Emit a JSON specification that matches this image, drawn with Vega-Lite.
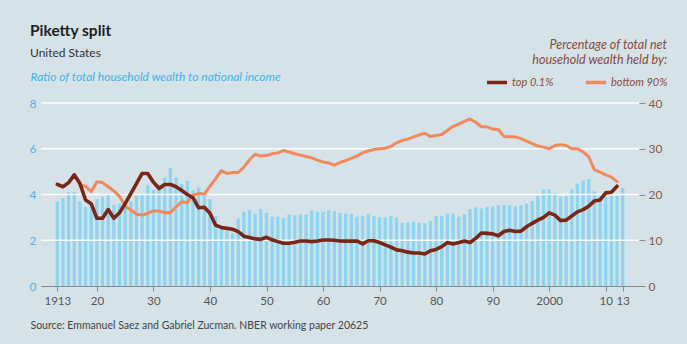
{
  "$schema": "https://vega.github.io/schema/vega-lite/v6.json",
  "width": 598,
  "height": 183,
  "autosize": "none",
  "padding": {"left": 41, "top": 103, "right": 48, "bottom": 58},
  "background": "#d5e2e8",
  "config": {"font": "Lato", "view": {"stroke": null}},
  "title": {
    "text": "Piketty split",
    "subtitle": "United States",
    "anchor": "start",
    "frame": "group",
    "dx": -11,
    "dy": 23.5,
    "fontSize": 15.5,
    "fontWeight": "bold",
    "color": "#1e1e1e",
    "subtitleFontSize": 12,
    "subtitleColor": "#333333",
    "subtitlePadding": 8,
    "offset": 4
  },
  "data": {
    "values": [
      {"year": 1913, "ratio": 3.7, "top": 22.2, "bottom": null},
      {"year": 1914, "ratio": 3.85, "top": 21.7, "bottom": null},
      {"year": 1915, "ratio": 4.1, "top": 22.6, "bottom": null},
      {"year": 1916, "ratio": 4.1, "top": 24.3, "bottom": null},
      {"year": 1917, "ratio": 3.7, "top": 22.4, "bottom": 22.0},
      {"year": 1918, "ratio": 3.45, "top": 18.8, "bottom": 21.8},
      {"year": 1919, "ratio": 3.6, "top": 18.0, "bottom": 20.6},
      {"year": 1920, "ratio": 3.8, "top": 14.8, "bottom": 22.8},
      {"year": 1921, "ratio": 3.9, "top": 14.8, "bottom": 22.6},
      {"year": 1922, "ratio": 4.0, "top": 16.7, "bottom": 21.7},
      {"year": 1923, "ratio": 3.55, "top": 14.8, "bottom": 20.8},
      {"year": 1924, "ratio": 3.6, "top": 16.0, "bottom": 19.6},
      {"year": 1925, "ratio": 3.7, "top": 18.0, "bottom": 17.5},
      {"year": 1926, "ratio": 3.7, "top": 20.2, "bottom": 16.6},
      {"year": 1927, "ratio": 3.95, "top": 22.4, "bottom": 15.7},
      {"year": 1928, "ratio": 4.0, "top": 24.6, "bottom": 15.5},
      {"year": 1929, "ratio": 4.4, "top": 24.6, "bottom": 15.9},
      {"year": 1930, "ratio": 4.2, "top": 22.7, "bottom": 16.4},
      {"year": 1931, "ratio": 4.45, "top": 21.3, "bottom": 16.4},
      {"year": 1932, "ratio": 4.75, "top": 22.2, "bottom": 16.0},
      {"year": 1933, "ratio": 5.15, "top": 22.2, "bottom": 16.0},
      {"year": 1934, "ratio": 4.75, "top": 21.7, "bottom": 17.3},
      {"year": 1935, "ratio": 4.45, "top": 20.9, "bottom": 18.4},
      {"year": 1936, "ratio": 4.6, "top": 20.0, "bottom": 18.2},
      {"year": 1937, "ratio": 4.2, "top": 19.3, "bottom": 19.9},
      {"year": 1938, "ratio": 4.3, "top": 17.1, "bottom": 20.2},
      {"year": 1939, "ratio": 3.95, "top": 17.2, "bottom": 20.1},
      {"year": 1940, "ratio": 3.8, "top": 15.9, "bottom": 21.8},
      {"year": 1941, "ratio": 3.05, "top": 13.3, "bottom": 23.4},
      {"year": 1942, "ratio": 2.65, "top": 12.8, "bottom": 25.2},
      {"year": 1943, "ratio": 2.4, "top": 12.6, "bottom": 24.6},
      {"year": 1944, "ratio": 2.3, "top": 12.4, "bottom": 24.8},
      {"year": 1945, "ratio": 2.95, "top": 11.9, "bottom": 24.8},
      {"year": 1946, "ratio": 3.25, "top": 10.9, "bottom": 26.0},
      {"year": 1947, "ratio": 3.32, "top": 10.6, "bottom": 27.6},
      {"year": 1948, "ratio": 3.17, "top": 10.3, "bottom": 28.8},
      {"year": 1949, "ratio": 3.36, "top": 10.2, "bottom": 28.4},
      {"year": 1950, "ratio": 3.2, "top": 10.65, "bottom": 28.5},
      {"year": 1951, "ratio": 3.03, "top": 10.1, "bottom": 28.9},
      {"year": 1952, "ratio": 3.03, "top": 9.7, "bottom": 29.1},
      {"year": 1953, "ratio": 2.96, "top": 9.35, "bottom": 29.6},
      {"year": 1954, "ratio": 3.14, "top": 9.35, "bottom": 29.3},
      {"year": 1955, "ratio": 3.1, "top": 9.57, "bottom": 28.9},
      {"year": 1956, "ratio": 3.13, "top": 9.85, "bottom": 28.6},
      {"year": 1957, "ratio": 3.13, "top": 9.85, "bottom": 28.3},
      {"year": 1958, "ratio": 3.29, "top": 9.7, "bottom": 28.0},
      {"year": 1959, "ratio": 3.24, "top": 9.85, "bottom": 27.5},
      {"year": 1960, "ratio": 3.24, "top": 10.07, "bottom": 27.1},
      {"year": 1961, "ratio": 3.3, "top": 10.07, "bottom": 26.9},
      {"year": 1962, "ratio": 3.27, "top": 10.0, "bottom": 26.4},
      {"year": 1963, "ratio": 3.2, "top": 9.85, "bottom": 27.0},
      {"year": 1964, "ratio": 3.17, "top": 9.8, "bottom": 27.4},
      {"year": 1965, "ratio": 3.15, "top": 9.8, "bottom": 27.9},
      {"year": 1966, "ratio": 3.03, "top": 9.85, "bottom": 28.4},
      {"year": 1967, "ratio": 3.06, "top": 9.2, "bottom": 29.1},
      {"year": 1968, "ratio": 3.15, "top": 9.9, "bottom": 29.5},
      {"year": 1969, "ratio": 3.06, "top": 9.9, "bottom": 29.85},
      {"year": 1970, "ratio": 3.0, "top": 9.5, "bottom": 30.0},
      {"year": 1971, "ratio": 3.0, "top": 9.0, "bottom": 30.1},
      {"year": 1972, "ratio": 3.06, "top": 8.5, "bottom": 30.5},
      {"year": 1973, "ratio": 3.0, "top": 7.9, "bottom": 31.3},
      {"year": 1974, "ratio": 2.77, "top": 7.7, "bottom": 31.8},
      {"year": 1975, "ratio": 2.77, "top": 7.4, "bottom": 32.1},
      {"year": 1976, "ratio": 2.81, "top": 7.2, "bottom": 32.6},
      {"year": 1977, "ratio": 2.77, "top": 7.2, "bottom": 33.0},
      {"year": 1978, "ratio": 2.74, "top": 7.0, "bottom": 33.4},
      {"year": 1979, "ratio": 2.85, "top": 7.7, "bottom": 32.7},
      {"year": 1980, "ratio": 3.06, "top": 8.0, "bottom": 32.9},
      {"year": 1981, "ratio": 3.06, "top": 8.6, "bottom": 33.1},
      {"year": 1982, "ratio": 3.17, "top": 9.5, "bottom": 34.0},
      {"year": 1983, "ratio": 3.17, "top": 9.2, "bottom": 34.9},
      {"year": 1984, "ratio": 3.03, "top": 9.5, "bottom": 35.4},
      {"year": 1985, "ratio": 3.14, "top": 9.85, "bottom": 36.0},
      {"year": 1986, "ratio": 3.36, "top": 9.5, "bottom": 36.5},
      {"year": 1987, "ratio": 3.43, "top": 10.4, "bottom": 35.8},
      {"year": 1988, "ratio": 3.39, "top": 11.6, "bottom": 34.8},
      {"year": 1989, "ratio": 3.46, "top": 11.5, "bottom": 34.8},
      {"year": 1990, "ratio": 3.48, "top": 11.4, "bottom": 34.3},
      {"year": 1991, "ratio": 3.53, "top": 11.0, "bottom": 34.2},
      {"year": 1992, "ratio": 3.53, "top": 11.9, "bottom": 32.7},
      {"year": 1993, "ratio": 3.53, "top": 12.2, "bottom": 32.6},
      {"year": 1994, "ratio": 3.5, "top": 11.9, "bottom": 32.6},
      {"year": 1995, "ratio": 3.53, "top": 12.0, "bottom": 32.2},
      {"year": 1996, "ratio": 3.6, "top": 12.95, "bottom": 31.65},
      {"year": 1997, "ratio": 3.72, "top": 13.7, "bottom": 31.1},
      {"year": 1998, "ratio": 3.93, "top": 14.4, "bottom": 30.6},
      {"year": 1999, "ratio": 4.22, "top": 15.0, "bottom": 30.35},
      {"year": 2000, "ratio": 4.22, "top": 16.0, "bottom": 30.0},
      {"year": 2001, "ratio": 4.07, "top": 15.5, "bottom": 30.7},
      {"year": 2002, "ratio": 3.9, "top": 14.3, "bottom": 30.9},
      {"year": 2003, "ratio": 3.93, "top": 14.4, "bottom": 30.7},
      {"year": 2004, "ratio": 4.22, "top": 15.3, "bottom": 30.0},
      {"year": 2005, "ratio": 4.48, "top": 16.2, "bottom": 30.0},
      {"year": 2006, "ratio": 4.62, "top": 16.7, "bottom": 29.3},
      {"year": 2007, "ratio": 4.67, "top": 17.45, "bottom": 28.2},
      {"year": 2008, "ratio": 4.14, "top": 18.6, "bottom": 25.4},
      {"year": 2009, "ratio": 3.93, "top": 18.8, "bottom": 24.9},
      {"year": 2010, "ratio": 3.9, "top": 20.35, "bottom": 24.3},
      {"year": 2011, "ratio": 3.93, "top": 20.5, "bottom": 23.8},
      {"year": 2012, "ratio": 3.93, "top": 21.8, "bottom": 22.8},
      {"year": 2013, "ratio": 4.29, "top": null, "bottom": null}
    ]
  },
  "encoding": {
    "x": {
      "field": "year",
      "type": "quantitative",
      "scale": {"domain": [1911, 2015], "nice": false, "zero": false},
      "axis": {
        "title": "Source: Emmanuel Saez and Gabriel Zucman. NBER working paper 20625",
        "titleX": -11,
        "titleY": 42,
        "titleAlign": "left",
        "titleAnchor": "start",
        "titleBaseline": "alphabetic",
        "titleFontSize": 10.5,
        "titleFontWeight": "normal",
        "titleColor": "#444444",
        "values": [1913, 1920, 1930, 1940, 1950, 1960, 1970, 1980, 1990, 2000, 2010, 2013],
        "format": "d",
        "labelExpr": "datum.value == 1913 || datum.value == 2000 ? datum.label : substring(datum.label, 2)",
        "labelOverlap": false,
        "labelFlush": false,
        "labelColor": "#555555",
        "labelFontSize": 11.5,
        "labelPadding": 4,
        "domainColor": "#8a8a8a",
        "domainWidth": 1,
        "tickColor": "#8a8a8a",
        "tickSize": 5,
        "grid": false
      }
    }
  },
  "layer": [
    {
      "layer": [
        {
          "mark": {"type": "bar", "color": "#8dd4ef", "size": 3.3},
          "encoding": {
            "y": {
              "field": "ratio",
              "type": "quantitative",
              "scale": {"domain": [0, 8], "nice": false},
              "axis": {
                "title": "Ratio of total household wealth to national income",
                "titleAngle": 0,
                "titleX": -11,
                "titleY": -23,
                "titleAlign": "left",
                "titleAnchor": "start",
                "titleBaseline": "alphabetic",
                "titleColor": "#3fb3e3",
                "titleFontStyle": "italic",
                "titleFontWeight": "normal",
                "titleFontSize": 12,
                "values": [0, 2, 4, 6, 8],
                "domain": false,
                "ticks": false,
                "grid": false,
                "labelColor": "#4fb6e0",
                "labelFontSize": 12,
                "labelPadding": 5
              }
            }
          }
        },
        {
          "data": {"values": [{"g": 2}, {"g": 4}, {"g": 6}, {"g": 8}]},
          "mark": {"type": "rule", "color": "#ffffff", "strokeWidth": 1.6, "opacity": 0.9},
          "encoding": {
            "x": {"value": 0},
            "x2": {"value": 598},
            "y": {"field": "g", "type": "quantitative"}
          }
        }
      ]
    },
    {
      "layer": [
        {
          "mark": {"type": "line", "strokeWidth": 3, "strokeJoin": "round", "strokeCap": "round"},
          "encoding": {
            "y": {
              "field": "bottom",
              "type": "quantitative",
              "scale": {"domain": [0, 40], "nice": false},
              "axis": {
                "orient": "right",
                "title": null,
                "values": [0, 10, 20, 30, 40],
                "domain": false,
                "grid": false,
                "ticks": true,
                "tickColor": "#8a8a8a",
                "tickSize": 6,
                "labelColor": "#8a5a4c",
                "labelFontSize": 12,
                "labelPadding": 3
              }
            },
            "color": {
              "datum": "bottom 90%",
              "type": "nominal",
              "scale": {"domain": ["top 0.1%", "bottom 90%"], "range": ["#7a2616", "#f08a5d"]},
              "legend": {
                "orient": "none",
                "legendX": 444,
                "legendY": -64,
                "direction": "horizontal",
                "title": ["Percentage of total net", "household wealth held by:"],
                "titleAlign": "right",
                "titleAnchor": "end",
                "titleFontStyle": "italic",
                "titleFontWeight": "normal",
                "titleFontSize": 12.5,
                "titleColor": "#8a4a3c",
                "titleLineHeight": 15,
                "titlePadding": 4,
                "symbolType": "stroke",
                "symbolSize": 400,
                "symbolStrokeWidth": 3.5,
                "labelFontStyle": "italic",
                "labelFontSize": 11,
                "labelColor": "#8a4a3c",
                "labelOffset": 3,
                "columnPadding": 25,
                "padding": 0
              }
            }
          }
        },
        {
          "mark": {"type": "line", "strokeWidth": 3.6, "strokeJoin": "round", "strokeCap": "round"},
          "encoding": {
            "y": {
              "field": "top",
              "type": "quantitative",
              "scale": {"domain": [0, 40], "nice": false}
            },
            "color": {"datum": "top 0.1%", "type": "nominal"}
          }
        }
      ]
    }
  ],
  "resolve": {"scale": {"y": "independent"}}
}
